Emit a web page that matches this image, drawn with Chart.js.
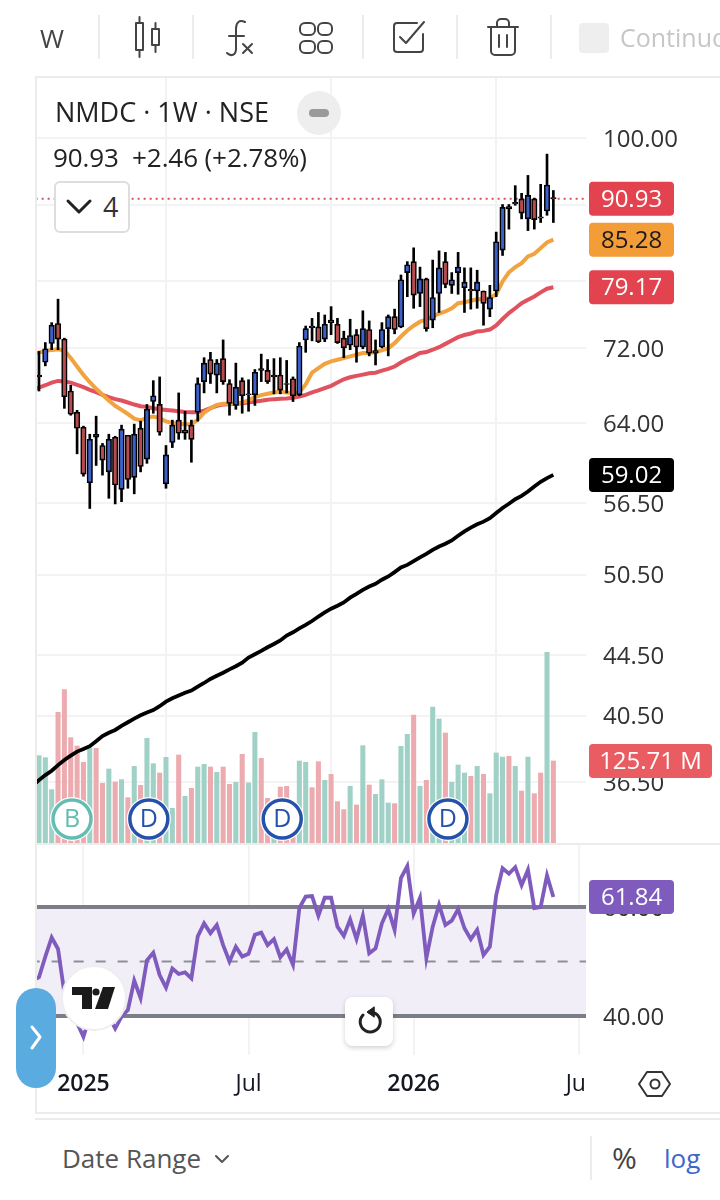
<!DOCTYPE html>
<html>
<head>
<meta charset="utf-8">
<title>NMDC 1W NSE</title>
<script src="https://cdn.jsdelivr.net/npm/chart.js@4/dist/chart.umd.min.js"></script>
<style>
  html, body { margin: 0; padding: 0; background: #fff; }
  body { position: relative; width: 720px; height: 1200px; overflow: hidden; font-family: "Open Sans", sans-serif; color: #222; }
  canvas { position: absolute; left: 0; }
  #priceChart { top: 0; }
  #rsiChart { top: 843px; }
  .abs { position: absolute; white-space: nowrap; line-height: 1; }
  .line { position: absolute; background: #ececec; }
  svg { position: absolute; left: 0; top: 0; overflow: visible; pointer-events: none; }
</style>
</head>
<body>
<canvas id="priceChart" width="720" height="844"></canvas>
<canvas id="rsiChart" width="720" height="270"></canvas>

<div class="line" style="left:35px;top:76px;width:685px;height:2px"></div>
<div class="line" style="left:35px;top:76px;width:2px;height:1038px"></div>
<div class="line" style="left:36px;top:843px;width:684px;height:2px"></div>
<div class="line" style="left:35px;top:1112px;width:685px;height:2px"></div>
<div class="line" style="left:35px;top:1118px;width:685px;height:2px"></div>
<div class="line" style="left:98px;top:15px;width:2px;height:44px"></div>
<div class="line" style="left:192px;top:15px;width:2px;height:44px"></div>
<div class="line" style="left:362px;top:15px;width:2px;height:44px"></div>
<div class="line" style="left:456px;top:15px;width:2px;height:44px"></div>
<div class="line" style="left:550px;top:15px;width:2px;height:44px"></div>
<div class="line" style="left:590px;top:1136px;width:2px;height:44px"></div>

<div class="abs" style="left:40px;top:25px;font-size:26px;color:#444">W</div>
<div class="abs" style="left:579px;top:23px;width:30px;height:30px;background:#eee;border-radius:4px"></div>
<div class="abs" style="left:620px;top:25px;font-size:25px;color:#c6c6c6">Continuous</div>

<div class="abs" style="left:55px;top:98px;font-size:27px;color:#222">NMDC · 1W · NSE</div>
<div class="abs" style="left:297px;top:91px;width:44px;height:44px;background:#eee;border-radius:50%"></div>
<div class="abs" style="left:309px;top:109px;width:20px;height:8px;background:#9a9a9a;border-radius:4px"></div>
<div class="abs" style="left:53px;top:144px;font-size:26px;color:#222;letter-spacing:-.1px">90.93&nbsp; +2.46 (+2.78%)</div>
<div class="abs" style="left:54px;top:181px;width:72px;height:48px;background:#fff;border:2px solid #ddd;border-radius:6px"></div>
<div class="abs" style="left:103px;top:193px;font-size:27px;color:#333">4</div>

<div class="abs" style="left:16px;top:988px;width:40px;height:100px;background:#5aabe0;border-radius:20px"></div>
<div class="abs" style="left:61px;top:965px;width:62px;height:62px;background:#fff;border:2px solid #eee;border-radius:50%"></div>
<div class="abs" style="left:345px;top:997px;width:48px;height:49px;background:#fff;border-radius:8px;box-shadow:0 2px 5px rgba(0,0,0,.18)"></div>

<div class="abs" style="left:62px;top:1145px;font-size:26px;color:#555">Date Range</div>
<div class="abs" style="left:612px;top:1143px;font-size:30px;color:#444">%</div>
<div class="abs" style="left:664px;top:1145px;font-size:26px;color:#3f66c9">log</div>

<svg width="720" height="1200" fill="none" stroke="#444" stroke-width="2" stroke-linecap="round" stroke-linejoin="round">
  <!-- toolbar icons -->
  <path d="M139.5 17v6M139.5 50v7M155.5 23v6M155.5 45v7"/>
  <rect x="136" y="23" width="7" height="27"/>
  <rect x="152" y="29" width="7" height="16"/>
  <path d="M245 22c-6-3-9 1-9 7v20c0 6-5 8-9 4M229 36h15M243 44l9 9M252 44l-9 9"/>
  <rect x="300" y="23" width="15" height="12" rx="5"/><rect x="318" y="23" width="14" height="12" rx="5"/>
  <rect x="300" y="41" width="15" height="12" rx="5"/><rect x="318" y="41" width="14" height="12" rx="5"/>
  <path d="M423 34v15a3 3 0 0 1-3 3h-23a3 3 0 0 1-3-3V26a3 3 0 0 1 3-3h20M400 37l6 6 18-21"/>
  <path d="M488 27h30M497 27v-4a4 4 0 0 1 4-4h4a4 4 0 0 1 4 4v4M491 27v24a4 4 0 0 0 4 4h16a4 4 0 0 0 4-4V27M499 35v12M507 35v12"/>
  <!-- legend chevron -->
  <path d="M68 201l11 11 11-11" stroke="#222" stroke-width="3"/>
  <!-- side tab -->
  <path d="M32 1027l8 10-8 11" stroke="#fff" stroke-width="3"/>
  <!-- replay -->
  <path d="M363 1015a10 10 0 1 0 6-3" stroke="#222" stroke-width="3"/>
  <path d="M374 1007l-7 5 7 5z" fill="#222" stroke="#222" stroke-width="1"/>
  <!-- settings hexagon -->
  <path d="M647 1072h15l8 12-8 12h-15l-8-12z" stroke="#333"/>
  <circle cx="655" cy="1084" r="4.5" stroke="#333"/>
  <!-- date range chevron -->
  <path d="M216 1156l6 6 6-6" stroke="#555"/>
  <!-- TV logo -->
  <g fill="#1a1a1a" stroke="none">
    <path d="M72 987h20v22H82V995H72z"/>
    <circle cx="96" cy="992" r="3.6"/>
    <path d="M103 987h12l-7 22H95z"/>
  </g>
</svg>

<script>
// weekly candles
const opens = [69.0,70.4,72.5,74.8,73.0,67.3,65.1,63.6,58.3,62.6,61.8,59.3,62.6,57.7,62.8,58.8,63.5,60.5,66.2,65.9,58.2,62.1,64.3,63.3,63.8,65.1,68.3,70.7,69.0,70.8,68.1,65.8,68.4,66.9,66.9,69.5,69.5,69.0,69.0,68.1,68.6,66.9,72.9,74.3,74.4,73.0,75.2,74.7,73.1,72.3,73.5,72.1,74.1,71.4,72.1,74.2,75.6,74.4,81.0,82.4,78.4,80.2,75.2,78.4,82.4,79.4,81.0,79.1,78.9,78.7,78.7,76.5,78.7,83.9,89.5,90.2,90.9,88.1,90.9,88.4,89.2,91.1];
const highs = [71.6,72.6,74.9,77.7,73.1,67.9,65.3,63.7,62.9,64.7,62.0,62.9,62.7,63.8,62.8,63.9,64.2,65.9,68.4,68.8,61.8,64.3,67.1,65.2,64.3,68.7,70.9,71.5,70.7,72.9,68.5,70.3,68.7,68.5,69.6,71.3,70.7,70.8,70.9,70.6,68.8,72.6,74.5,75.4,76.1,75.8,76.8,75.4,73.9,75.3,74.1,76.3,75.1,72.9,74.9,75.8,76.5,80.7,82.4,84.2,81.7,80.3,82.6,83.8,83.6,81.0,83.6,81.6,81.6,81.3,78.7,79.4,86.3,90.1,90.1,92.8,91.7,94.3,91.0,93.0,97.5,92.1];
const lows = [67.3,70.0,71.8,71.8,65.5,64.8,61.0,58.9,56.0,59.9,59.0,56.9,56.4,56.6,57.8,57.3,59.3,60.1,65.0,62.8,57.8,61.6,62.4,62.4,60.2,64.2,67.1,68.1,67.1,68.0,64.8,65.4,65.0,65.2,65.8,68.3,68.1,67.0,67.0,67.1,66.2,66.8,71.5,72.8,72.6,72.7,73.5,72.5,70.9,71.8,70.4,71.9,71.1,70.1,72.0,71.1,73.6,74.3,78.0,76.6,76.8,73.9,74.3,76.1,79.1,78.4,78.3,76.1,76.5,76.6,74.6,75.6,78.0,83.2,86.7,90.0,88.1,86.5,86.7,87.6,88.6,87.6];
const closes = [68.8,71.9,74.6,73.0,66.7,64.9,63.5,59.1,62.4,62.9,60.4,62.4,58.1,63.4,58.6,62.9,59.8,65.4,66.8,63.1,60.9,63.8,63.0,63.0,62.4,68.1,70.3,69.1,70.3,68.3,66.0,67.7,66.8,67.0,69.3,69.7,68.3,68.8,67.4,68.0,66.8,72.2,74.2,74.5,72.7,74.7,74.9,72.6,72.0,73.4,72.1,74.2,71.4,71.7,74.1,75.6,74.1,80.1,82.0,78.2,80.2,74.2,77.9,81.6,79.5,80.1,81.7,79.8,78.7,79.8,77.2,77.9,85.0,89.7,89.8,90.4,88.9,91.4,88.0,88.2,92.9,90.93];

// moving averages, first value is the week before the first candle
const ma20 = [71.4,71.48,71.63,71.77,71.85,71.70,70.86,69.94,69.02,68.23,67.53,66.90,66.32,65.76,65.34,64.92,64.46,64.27,64.56,64.66,64.50,64.17,64.01,63.94,63.90,63.90,64.33,65.06,65.51,65.86,65.97,65.97,65.97,66.10,66.32,66.66,66.87,67.01,67.15,67.22,67.15,67.08,67.15,68.0,69.26,69.75,70.23,70.49,70.67,70.86,71.05,71.23,71.42,71.42,71.53,71.71,71.97,72.53,73.29,73.99,74.54,75.01,75.24,75.63,75.95,76.22,76.60,77.21,77.33,77.50,77.68,77.68,77.81,78.32,79.88,81.04,81.69,82.21,83.07,83.42,84.16,84.90,85.28];
const ma50 = [67.4,67.67,67.91,68.19,68.37,68.30,68.19,67.95,67.70,67.43,67.18,66.90,66.66,66.45,66.31,66.10,65.89,65.72,65.65,65.51,65.41,65.34,65.27,65.20,65.13,65.10,65.10,65.27,65.51,65.76,65.89,65.93,65.97,66.03,66.10,66.21,66.28,66.38,66.45,66.49,66.52,66.59,66.73,66.90,67.15,67.36,67.61,67.85,68.20,68.55,68.76,68.91,69.05,69.19,69.26,69.49,69.67,69.93,70.37,70.74,71.05,71.42,71.53,71.79,72.08,72.45,72.83,73.21,73.46,73.64,73.88,73.94,74.09,74.58,75.32,76.02,76.60,77.21,77.62,78.03,78.53,78.98,79.17];
const ma200 = [36.3,36.61,36.90,37.15,37.48,37.78,38.04,38.28,38.44,38.61,38.91,39.22,39.43,39.60,39.85,40.08,40.31,40.52,40.69,40.85,41.10,41.39,41.61,41.79,41.98,42.12,42.38,42.62,42.89,43.10,43.31,43.54,43.75,44.00,44.35,44.58,44.81,45.07,45.30,45.55,45.90,46.14,46.42,46.67,46.96,47.29,47.59,47.87,48.09,48.34,48.71,48.99,49.30,49.56,49.77,50.09,50.35,50.69,51.06,51.27,51.58,51.88,52.16,52.49,52.77,52.99,53.27,53.66,54.03,54.35,54.63,54.86,55.16,55.60,56.04,56.42,56.82,57.11,57.50,57.96,58.39,58.73,59.02];

// volume in millions, 1 = up week, 0 = down week
const volumes = [133.9,130.8,81.8,200.3,235.1,161.5,148.7,123.7,145.6,145.1,91.5,113.4,93.5,97.1,69.5,117.5,88.4,160.5,121.6,107.3,131.3,53.1,134.9,71.5,83.8,116.5,120.6,116.5,108.3,116.5,89.9,93.0,135.9,92.0,169.7,129.8,68.5,54.7,85.8,86.9,49.6,125.7,123.7,84.8,124.7,96.1,105.3,63.4,51.1,86.9,58.3,149.2,88.9,74.6,97.1,61.3,60.3,148.2,166.6,196.2,86.9,96.1,208.5,190.1,168.6,93.0,119.6,107.3,102.2,117.5,105.3,75.6,138.0,131.8,132.9,117.5,79.7,131.8,75.6,107.3,292.3,125.71];
const volumeUp = [1,1,1,0,0,0,0,0,1,0,0,1,0,1,0,1,0,1,1,0,1,1,0,1,0,1,1,0,1,0,0,1,0,1,1,0,0,1,0,0,0,1,1,0,0,1,0,0,0,1,0,1,0,1,1,1,0,1,1,0,1,0,1,1,0,1,1,1,0,1,0,1,1,1,0,1,0,1,0,0,1,0];

// RSI, first value is the week before the first candle
const rsi = [46.5,47.1,50.9,54.4,52.3,44.2,40.5,38.7,36.2,39.9,41.7,41.1,39.9,37.7,39.9,41.1,46.5,43.3,50.2,51.6,47.5,45.2,48.7,47.7,48.0,46.9,54.6,57.0,55.2,56.7,53.0,50.0,52.7,50.9,51.4,54.9,55.3,53.0,54.1,50.8,52.2,49.4,59.8,61.9,62.0,58.4,61.7,61.7,56.4,54.7,57.7,54.1,58.4,51.5,52.4,57.0,59.6,55.8,65.3,67.5,58.8,61.7,50.6,56.4,60.4,56.7,57.5,59.6,56.1,54.1,55.8,51.2,52.7,62.2,67.1,66.1,67.3,64.0,66.8,59.8,60.0,65.8,61.84];
const rsiBands = [60, 50, 40];

const lastPrice = 90.93;
const priceTicks = [100, 90, 80, 72, 64, 56.5, 50.5, 44.5, 40.5, 36.5];
const rsiTicks = [60, 40];
const timeTickWeeks = [7, 33, 59, 85];
const timeTickLabels = ["2025", "Jul", "2026", "Ju\u00a0"];
const eventWeeks = [5.2, 17.3, 38.3, 64.4];
const eventLabels = ["B", "D", "D", "D"];

Chart.defaults.font.family = "'Open Sans', sans-serif";
Chart.defaults.animation = false;

const GRID = "#f3f3f5";
const TEXT = "#333";
const weekMin = -0.47;
const weekMax = 86.14;

const points = (values, shift = 0) => values.map((v, i) => ({ x: i + shift, y: v }));
const flat = (v) => [{ x: weekMin - 1, y: v }, { x: weekMax + 1, y: v }];
const lineSet = (data, color, width, order, extra) => ({
  type: "line", data, borderColor: color, borderWidth: width, pointRadius: 0, tension: 0, order, ...extra,
});

// keep the plot area exactly where the padding puts it
function fixBox(scale, size) {
  if (scale.isHorizontal()) scale.height = size;
  else scale.width = size;
  scale.paddingTop = 0;
  scale.paddingBottom = 0;
  scale.paddingLeft = 0;
  scale.paddingRight = 0;
}

// value tags on the price axis, placed through the scales
function tagPlugin(tags) {
  return {
    id: "tags",
    afterDraw(chart) {
      const { ctx, chartArea } = chart;
      tags.forEach((t) => {
        const y = chart.scales[t.scale].getPixelForValue(t.value);
        const w = t.width || 85;
        ctx.fillStyle = t.bg;
        ctx.beginPath();
        ctx.roundRect(chartArea.right + 3, y - 17, w, 34, 4);
        ctx.fill();
        ctx.fillStyle = t.fg;
        ctx.font = "24px 'Open Sans'";
        ctx.textAlign = "center";
        ctx.textBaseline = "middle";
        ctx.fillText(t.text, chartArea.right + 3 + w / 2, y + 1);
      });
    },
  };
}

// dividend / bonus circles on the bottom of the price pane
const eventPlugin = {
  id: "events",
  afterDatasetsDraw(chart) {
    const { ctx, chartArea, scales } = chart;
    const y = chartArea.bottom - 24;
    eventWeeks.forEach((week, i) => {
      const x = scales.x.getPixelForValue(week);
      const color = eventLabels[i] === "B" ? "#63bdb3" : "#2452ab";
      ctx.beginPath();
      ctx.arc(x, y, 22, 0, Math.PI * 2);
      ctx.fillStyle = "#fff";
      ctx.fill();
      ctx.beginPath();
      ctx.arc(x, y, 19, 0, Math.PI * 2);
      ctx.strokeStyle = color;
      ctx.lineWidth = 3.5;
      ctx.stroke();
      ctx.fillStyle = color;
      ctx.font = "25px 'Open Sans'";
      ctx.textAlign = "center";
      ctx.textBaseline = "middle";
      ctx.fillText(eventLabels[i], x, y + 1);
    });
  },
};

new Chart(document.getElementById("priceChart"), {
  type: "bar",
  data: {
    datasets: [
      {
        label: "Volume", yAxisID: "v", order: 6, grouped: false, barThickness: 4.4,
        data: points(volumes),
        backgroundColor: volumeUp.map((u) => (u ? "#a0d1c7" : "#ecabaf")),
      },
      lineSet(points(ma200, -1), "#000", 3.8, 5),
      lineSet(flat(lastPrice), "#d6505c", 2, 4.5, { borderDash: [2, 4] }),
      lineSet(points(ma50, -1), "#e0525e", 4, 4),
      lineSet(points(ma20, -1), "#f0a33e", 4, 3),
      {
        label: "Wick", order: 2, grouped: false, barThickness: 2,
        data: highs.map((h, i) => ({ x: i, y: [lows[i], h] })),
        backgroundColor: "#000",
      },
      {
        label: "Body", order: 1, grouped: false, barThickness: 5.5, borderWidth: 1.6, borderColor: "#000", borderSkipped: false,
        data: opens.map((o, i) => ({ x: i, y: [o, closes[i]] })),
        backgroundColor: opens.map((o, i) => (closes[i] >= o ? "#3c5fc8" : "#b84a50")),
      },
    ],
  },
  options: {
    responsive: false,
    layout: { padding: { left: 36, top: 77, right: 0, bottom: 1 } },
    plugins: { legend: { display: false }, tooltip: { enabled: false } },
    scales: {
      x: {
        type: "linear", offset: false, min: weekMin, max: weekMax,
        grid: { color: GRID, lineWidth: 2, drawTicks: false },
        border: { display: false },
        ticks: { display: false },
        afterBuildTicks: (s) => { s.ticks = timeTickWeeks.map((v) => ({ value: v })); },
        afterFit: (s) => fixBox(s, 0),
      },
      y: {
        type: "logarithmic", position: "right", min: 33.18, max: 110,
        grid: { color: GRID, lineWidth: 2, drawTicks: false },
        border: { display: false },
        ticks: { color: TEXT, font: { size: 24 }, padding: 17, labelOffset: 2, autoSkip: false, callback: (v) => v.toFixed(2) },
        afterBuildTicks: (s) => { s.ticks = priceTicks.map((v) => ({ value: v })); },
        afterFit: (s) => fixBox(s, 134),
      },
      v: { type: "linear", display: false, min: 0, max: 1174 },
    },
  },
  plugins: [
    eventPlugin,
    tagPlugin([
      { scale: "v", value: volumes[81], text: "125.71 M", bg: "#e85c62", fg: "#fff", width: 123 },
      { scale: "y", value: lastPrice, text: "90.93", bg: "#e2434f", fg: "#fff" },
      { scale: "y", value: ma20[82], text: "85.28", bg: "#f29d38", fg: "#1b1b1b" },
      { scale: "y", value: ma50[82], text: "79.17", bg: "#e2434f", fg: "#fff" },
      { scale: "y", value: ma200[82], text: "59.02", bg: "#000", fg: "#fff" },
    ]),
  ],
});

new Chart(document.getElementById("rsiChart"), {
  type: "line",
  data: {
    datasets: [
      lineSet(flat(rsiBands[0]), "#7b7e88", 4, 3, { fill: { target: 1, above: "#f1eef8", below: "#f1eef8" } }),
      lineSet(flat(rsiBands[2]), "#7b7e88", 4, 2.9),
      lineSet(flat(rsiBands[1]), "#8d8f98", 2, 2, { borderDash: [10, 12] }),
      lineSet(points(rsi, -1), "#7e5bbd", 3.8, 1),
    ],
  },
  options: {
    responsive: false,
    layout: { padding: { left: 36, top: 1, right: 0, bottom: 0 } },
    plugins: { legend: { display: false }, tooltip: { enabled: false } },
    scales: {
      x: {
        type: "linear", min: weekMin, max: weekMax,
        grid: { color: GRID, lineWidth: 2, drawTicks: false },
        border: { display: false },
        ticks: {
          color: "#131722", padding: 16, maxRotation: 0, autoSkip: false,
          font: (c) => ({ size: 23, weight: c.tick && /^\d/.test(c.tick.label) ? "600" : "400" }),
          callback: (v) => timeTickLabels[timeTickWeeks.indexOf(v)],
        },
        afterBuildTicks: (s) => { s.ticks = timeTickWeeks.map((v) => ({ value: v })); },
        afterFit: (s) => fixBox(s, 58),
      },
      y: {
        type: "linear", position: "right", min: 32.84, max: 71.56,
        grid: { display: false, drawTicks: false },
        border: { display: false },
        ticks: { color: TEXT, font: { size: 24 }, padding: 17, labelOffset: 2, autoSkip: false, callback: (v) => v.toFixed(2) },
        afterBuildTicks: (s) => { s.ticks = rsiTicks.map((v) => ({ value: v })); },
        afterFit: (s) => fixBox(s, 134),
      },
    },
  },
  plugins: [
    tagPlugin([{ scale: "y", value: rsi[82], text: "61.84", bg: "#7e5bbd", fg: "#fff" }]),
  ],
});
</script>
</body>
</html>
